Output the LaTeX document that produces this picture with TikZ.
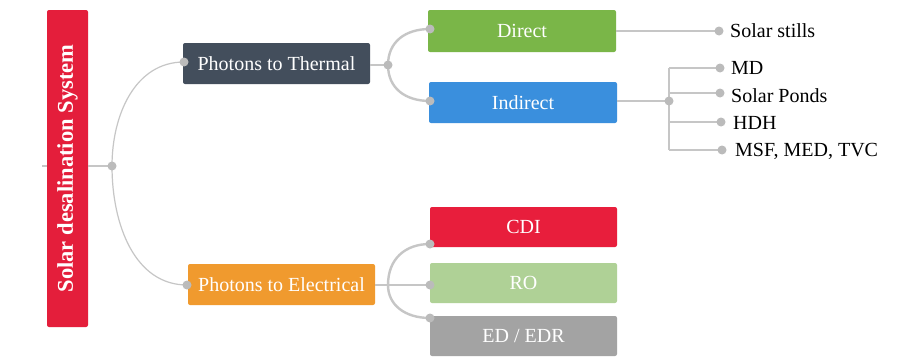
\documentclass[tikz,border=0pt]{standalone}
\usepackage{fontspec}
\setmainfont{Liberation Serif}
\definecolor{rootred}{HTML}{E41E3B}
\definecolor{slate}{HTML}{434E5C}
\definecolor{orng}{HTML}{F09A2E}
\definecolor{grn}{HTML}{7AB648}
\definecolor{blu}{HTML}{3A8FDD}
\definecolor{cdired}{HTML}{E81E3C}
\definecolor{lgrn}{HTML}{AFD196}
\definecolor{edgray}{HTML}{A3A3A3}
\definecolor{linegray}{HTML}{C6C6C6}
\definecolor{dotgray}{HTML}{BBBBBB}
\tikzset{
  box/.style={rectangle, rounded corners=2pt, text=white, inner sep=0pt, font=\fontsize{20}{24}\selectfont},
  leaf/.style={anchor=west, inner sep=0pt, text=black, font=\fontsize{20}{24}\selectfont},
  conn/.style={draw=linegray, line width=2.4pt},
  thinconn/.style={draw=linegray, line width=1.2pt},
  dot/.style={fill=dotgray, draw=none},
}
\begin{document}
\begin{tikzpicture}[x=1pt,y=-1pt]
\useasboundingbox[fill=white] (0,0) rectangle (904,356);
% nodes
\node[box, fill=rootred, minimum width=41pt, minimum height=317pt] (root) at (67.5,168.5)
  {\rotatebox{90}{\fontsize{22.5}{26}\selectfont\bfseries Solar desalination System}};
\node[box, fill=slate, minimum width=187pt, minimum height=41pt] (pt) at (276.5,63.5) {Photons to Thermal};
\node[box, fill=orng, minimum width=187pt, minimum height=41pt] (pe) at (281.5,284.5) {Photons to Electrical};
\node[box, fill=grn, minimum width=188pt, minimum height=42pt] (direct) at (522,31) {Direct};
\node[box, fill=blu, minimum width=188pt, minimum height=41pt] (indirect) at (523,102.5) {Indirect};
\node[box, fill=cdired, minimum width=187pt, minimum height=40pt] (cdi) at (523.5,227) {CDI};
\node[box, fill=lgrn, minimum width=187pt, minimum height=40pt] (ro) at (523.5,283) {RO};
\node[box, fill=edgray, minimum width=187pt, minimum height=40pt] (ed) at (523.5,336) {ED / EDR};
\node[leaf] (stills) at (730,31) {Solar stills};
\node[leaf] (md) at (731,68) {MD};
\node[leaf] (ponds) at (731,96) {Solar Ponds};
\node[leaf] (hdh) at (733,123) {HDH};
\node[leaf] (msf) at (735,151) {MSF, MED, TVC};
% coordinates
\coordinate (h0) at (112,166);
\coordinate (stub) at (42,166);
\coordinate (ptin) at (184,62);
\coordinate (pein) at (187,285);
\coordinate (h1) at (388,65);
\coordinate (dirin) at (430,29);
\coordinate (indin) at (430,101);
\coordinate (stillsdot) at (719,31);
\coordinate (h2) at (669,101);
\coordinate (mddot) at (720,68);
\coordinate (pondsdot) at (720,93);
\coordinate (hdhdot) at (721,122);
\coordinate (msfdot) at (722,150);
\coordinate (h3) at (388,285);
\coordinate (cdiin) at (430,244);
\coordinate (roin) at (430,285);
\coordinate (edin) at (430,318);
% connectors
\begin{scope}[on background layer/.try]
\end{scope}
\draw[conn] (stub) -- (root.west |- stub);
\draw[conn] (root.east |- h0) -- (h0);
\draw[thinconn] (h0) .. controls (112,115) and (135,62) .. (ptin);
\draw[thinconn] (h0) .. controls (112,225) and (135,285) .. (pein);
\draw[conn] (pt.east |- h1) -- (h1);
\draw[conn] (h1) .. controls (388,42) and (405,29) .. (dirin);
\draw[conn] (h1) .. controls (388,88) and (405,101) .. (indin);
\draw[conn] (direct.east |- stillsdot) -- (stillsdot);
\draw[conn] (indirect.east |- h2) -- (h2);
\draw[conn] (h2 |- mddot) -- (h2 |- msfdot);
\draw[conn] (h2 |- mddot) -- (mddot);
\draw[conn] (h2 |- pondsdot) -- (pondsdot);
\draw[conn] (h2 |- hdhdot) -- (hdhdot);
\draw[conn] (h2 |- msfdot) -- (msfdot);
\draw[conn] (pe.east |- roin) -- (roin);
\draw[conn] (h3) .. controls (388,259) and (405,244) .. (cdiin);
\draw[conn] (h3) .. controls (388,305) and (405,318) .. (edin);
% dots
\foreach \c in {h0,ptin,pein,h1,dirin,indin,stillsdot,h2,mddot,pondsdot,hdhdot,msfdot,cdiin,roin,edin}
  \fill[dot] (\c) circle (4.5);
\end{tikzpicture}
\end{document}
